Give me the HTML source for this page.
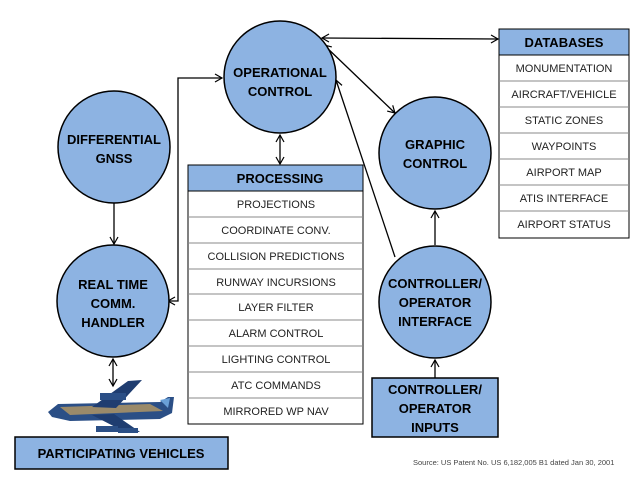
<!DOCTYPE html>
<html><head><style>
body{margin:0;background:#fff}
svg text{font-family:"Liberation Sans",sans-serif}
</style></head><body>
<svg width="640" height="480" viewBox="0 0 640 480" xmlns="http://www.w3.org/2000/svg">
<defs>
<marker id="a" markerWidth="10" markerHeight="10" refX="8" refY="5" orient="auto-start-reverse" markerUnits="userSpaceOnUse">
<path d="M1,1 L8,5 L1,9" fill="none" stroke="#000" stroke-width="1.2"/></marker>
</defs>
<g stroke="#000" stroke-width="1.3" fill="none">
<polyline points="168,301 178,301 178,78 222,78" marker-start="url(#a)" marker-end="url(#a)"/>
<line x1="280" y1="135" x2="280" y2="164" marker-start="url(#a)" marker-end="url(#a)"/>
<line x1="322" y1="38" x2="498" y2="39" marker-start="url(#a)" marker-end="url(#a)"/>
<line x1="324" y1="45" x2="395" y2="113" marker-start="url(#a)" marker-end="url(#a)"/>
<line x1="395" y1="257" x2="336" y2="80" marker-end="url(#a)"/>
<line x1="435" y1="245" x2="435" y2="211" marker-end="url(#a)"/>
<line x1="435" y1="378" x2="435" y2="360" marker-end="url(#a)"/>
<line x1="114" y1="203" x2="114" y2="244" marker-end="url(#a)"/>
<line x1="113" y1="359" x2="113" y2="386" marker-start="url(#a)" marker-end="url(#a)"/>
</g>
<g fill="#8db3e2" stroke="#000" stroke-width="1.5">
<circle cx="280" cy="77" r="56"/>
<circle cx="435" cy="153" r="56"/>
<circle cx="114" cy="147" r="56"/>
<circle cx="113" cy="301" r="56"/>
<circle cx="435" cy="302" r="56"/>
<rect x="372" y="378" width="126" height="59"/>
<rect x="15" y="437" width="213" height="32"/>
</g>
<g font-weight="bold" font-size="13" text-anchor="middle" fill="#000">
<text x="280" y="77">OPERATIONAL</text><text x="280" y="96">CONTROL</text>
<text x="435" y="149">GRAPHIC</text><text x="435" y="168">CONTROL</text>
<text x="114" y="144">DIFFERENTIAL</text><text x="114" y="163">GNSS</text>
<text x="113" y="289">REAL TIME</text><text x="113" y="308">COMM.</text><text x="113" y="327">HANDLER</text>
<text x="435" y="288">CONTROLLER/</text><text x="435" y="307">OPERATOR</text><text x="435" y="326">INTERFACE</text>
<text x="435" y="394">CONTROLLER/</text><text x="435" y="413">OPERATOR</text><text x="435" y="432">INPUTS</text>
<text x="121" y="458">PARTICIPATING VEHICLES</text>
</g>
<g stroke="#000" stroke-width="1">
<rect x="188" y="165" width="175" height="26" fill="#8db3e2"/>
<rect x="188" y="191" width="175" height="233" fill="#fff"/>
<path d="M188,217H363M188,243H363M188,269H363M188,294H363M188,320H363M188,346H363M188,372H363M188,398H363" stroke="#888"/>
<rect x="499" y="29" width="130" height="26" fill="#8db3e2"/>
<rect x="499" y="55" width="130" height="183" fill="#fff"/>
<path d="M499,81H629M499,107H629M499,133H629M499,159H629M499,185H629M499,211H629" stroke="#888"/>
</g>
<g font-size="11" text-anchor="middle" fill="#222">
<text x="280" y="183" font-weight="bold" font-size="13" fill="#000">PROCESSING</text>
<text x="276" y="208">PROJECTIONS</text>
<text x="276" y="234">COORDINATE CONV.</text>
<text x="276" y="260">COLLISION PREDICTIONS</text>
<text x="276" y="286">RUNWAY INCURSIONS</text>
<text x="276" y="311">LAYER FILTER</text>
<text x="276" y="337">ALARM CONTROL</text>
<text x="276" y="363">LIGHTING CONTROL</text>
<text x="276" y="389">ATC COMMANDS</text>
<text x="276" y="415">MIRRORED WP NAV</text>
<text x="564" y="47" font-weight="bold" font-size="13" fill="#000">DATABASES</text>
<text x="564" y="72">MONUMENTATION</text>
<text x="564" y="98">AIRCRAFT/VEHICLE</text>
<text x="564" y="124">STATIC ZONES</text>
<text x="564" y="150">WAYPOINTS</text>
<text x="564" y="176">AIRPORT MAP</text>
<text x="564" y="202">ATIS INTERFACE</text>
<text x="564" y="228">AIRPORT STATUS</text>
</g>
<text x="413" y="465" font-size="7.5" fill="#444">Source: US Patent No. US 6,182,005 B1 dated Jan 30, 2001</text>
<g>
<path d="M48,412 L58,404 L160,402 L168,397 L174,397 L172,413 L160,419 L70,421 L52,417 Z" fill="#2b4f86"/>
<path d="M60,407 L150,404 L163,411 L70,415 Z" fill="#9a8a6a"/>
<path d="M160,400 L170,398 L168,408 Z" fill="#6aa0d8"/>
<path d="M92,407 L128,381 L142,380 L116,408 Z" fill="#1f3d70"/>
<path d="M92,415 L125,432 L140,432 L114,414 Z" fill="#1f3d70"/>
<rect x="100" y="393" width="26" height="7" fill="#2b4f86"/>
<rect x="96" y="426" width="22" height="6" fill="#2b4f86"/>
<rect x="118" y="428" width="20" height="5" fill="#2b4f86"/>
</g>
</svg>
</body></html>
